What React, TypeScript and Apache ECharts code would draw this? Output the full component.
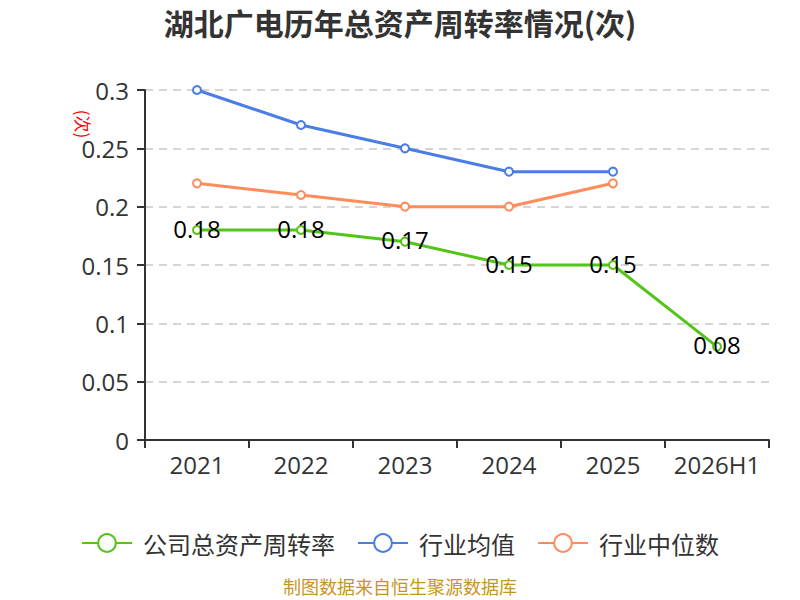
import React, { useEffect, useRef } from "react";
import * as echarts from "echarts";

const categories = ["2021", "2022", "2023", "2024", "2025", "2026H1"];
const companyValues = [0.18, 0.18, 0.17, 0.15, 0.15, 0.08];
const industryAvg = [0.3, 0.27, 0.25, 0.23, 0.23, null];
const industryMedian = [0.22, 0.21, 0.2, 0.2, 0.22, null];

const FONT = "'Open Sans', 'Noto Sans CJK SC', sans-serif";
const CJK = "'Noto Sans CJK SC', sans-serif";

export default function App() {
  const ref = useRef<HTMLDivElement>(null);
  useEffect(() => {
    document.body.style.margin = "0";
    if (!ref.current) return;
    const chart = echarts.init(ref.current, undefined, { renderer: "svg" });
    chart.setOption({
      animation: false,
      textStyle: { fontFamily: FONT },
      title: {
        text: "湖北广电历年总资产周转率情况(次)",
        left: "center",
        top: 2,
        textStyle: { fontSize: 30, fontWeight: "bold", color: "#333", fontFamily: CJK },
      },
      grid: { left: 145, right: 31, top: 90, bottom: 160 },
      legend: {
        top: 526,
        left: "center",
        itemWidth: 50,
        itemHeight: 22,
        itemGap: 22,
        textStyle: { fontSize: 24, color: "#333", fontFamily: CJK, padding: [0, 0, 0, 6] },
        data: ["公司总资产周转率", "行业均值", "行业中位数"],
      },
      xAxis: {
        type: "category",
        data: categories,
        boundaryGap: true,
        axisLine: { lineStyle: { color: "#333", width: 2 } },
        axisTick: { show: true, interval: 0, length: 8, lineStyle: { color: "#333", width: 2 } },
        axisLabel: { interval: 0, fontSize: 24, color: "#333", margin: 12, fontFamily: FONT },
      },
      yAxis: {
        type: "value",
        min: 0,
        max: 0.3,
        interval: 0.05,
        axisLine: { show: true, lineStyle: { color: "#333", width: 2 } },
        axisTick: { show: true, length: 8, lineStyle: { color: "#333", width: 2 } },
        axisLabel: { fontSize: 24, color: "#333", margin: 16, fontFamily: FONT },
        splitLine: { lineStyle: { type: [8, 6], color: "#c8c8c8", width: 1.5 } },
      },
      graphic: [
        {
          type: "text",
          x: 83,
          y: 124,
          rotation: -Math.PI / 2,
          style: {
            text: "(次)",
            fontSize: 17,
            fill: "#ff0000",
            fontFamily: CJK,
            align: "center",
            verticalAlign: "middle",
          },
        },
        {
          type: "text",
          left: "center",
          top: 577,
          style: { text: "制图数据来自恒生聚源数据库", fontSize: 18, fill: "#c8961e", fontFamily: CJK },
        },
      ],
      series: [
        {
          name: "公司总资产周转率",
          type: "line",
          data: companyValues,
          symbol: "emptyCircle",
          symbolSize: 8,
          itemStyle: { color: "#52c41a" },
          lineStyle: { width: 3, color: "#52c41a" },
          label: {
            show: true,
            position: "inside",
            offset: [0, -2],
            fontSize: 24,
            color: "#000",
            fontFamily: FONT,
          },
          z: 3,
        },
        {
          name: "行业均值",
          type: "line",
          data: industryAvg,
          symbol: "emptyCircle",
          symbolSize: 8,
          itemStyle: { color: "#4a7ee6" },
          lineStyle: { width: 3, color: "#4a7ee6" },
        },
        {
          name: "行业中位数",
          type: "line",
          data: industryMedian,
          symbol: "emptyCircle",
          symbolSize: 8,
          itemStyle: { color: "#ff8c5a" },
          lineStyle: { width: 3, color: "#ff8c5a" },
        },
      ],
    });
    return () => chart.dispose();
  }, []);
  return <div ref={ref} style={{ width: 800, height: 600 }} />;
}
